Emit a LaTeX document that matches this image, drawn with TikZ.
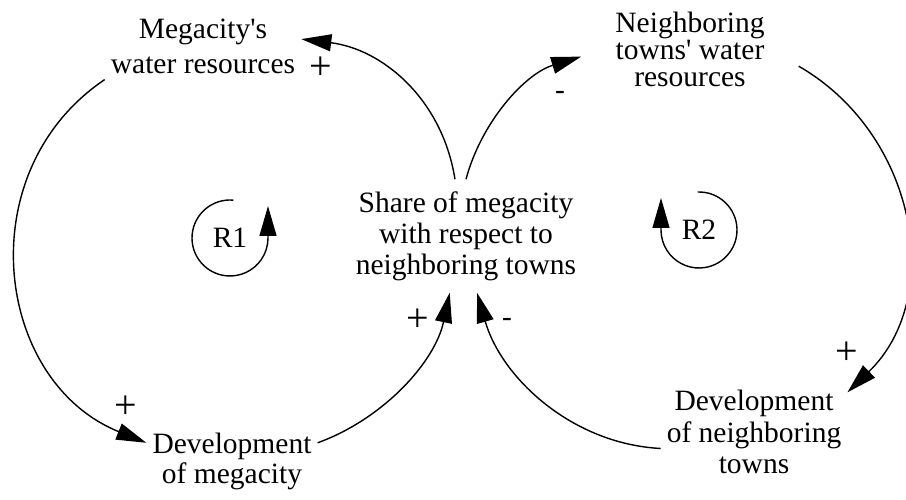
\documentclass[tikz,border=0pt]{standalone}
\usepackage{fontspec}
\setmainfont{Liberation Serif}
\usetikzlibrary{arrows.meta}

\begin{document}
\begin{tikzpicture}[x=1pt, y=1pt,
  var/.style={align=center, inner sep=6pt},
  link/.style={line width=1.4pt, -{Triangle[length=30pt, width=17pt]}},
  sign/.style={inner sep=0pt, font=\fontsize{29.5}{31}\selectfont},
  plus/.style={sign, font=\fontsize{40}{40}\selectfont}]

\useasboundingbox (0,0) rectangle (906,500);

% variables
\node[var, font=\fontsize{29.5}{35}\selectfont] (mw) at (203, 454) {Megacity\textquotesingle s\\water resources};
\node[var, inner xsep=34pt, font=\fontsize{29.5}{27}\selectfont] (nw) at (690, 451) {Neighboring\\towns\textquotesingle{} water\\resources};
\node[var, inner ysep=12pt, font=\fontsize{29.5}{31}\selectfont] (sh) at (466, 264) {Share of megacity\\with respect to\\neighboring towns};
\node[var, font=\fontsize{29.5}{30}\selectfont] (dm) at (232, 39) {Development\\of megacity};
\node[var, font=\fontsize{29.5}{31.5}\selectfont] (dn) at (754, 68) {Development\\of neighboring\\towns};

% causal links
\draw[link] (sh.101) to[out=99, in=-7] (mw.4);
\draw[link] (mw.south west) to[out=214, in=158, looseness=1.15] (dm.168);
\draw[link] (dm.12) to[out=20, in=258, looseness=0.9] (sh.254);
\draw[link] (dn.190) to[out=177, in=286, looseness=0.94] (sh.281);
\draw[link] (sh.north) to[out=75, in=197, looseness=0.9] (nw.184);
\draw[link] (nw.351) to[out=-30, in=44, looseness=1.06] (dn.23);

% polarities
\node[plus] (p1) at (321, 432) {+};
\node[plus] (p2) at (126, 93) {+};
\node[plus] (p3) at (418, 180) {+};
\node[sign] (p4) at (507, 178) {-};
\node[sign] (p5) at (560, 405) {-};
\node[plus] (p6) at (847, 147) {+};

% loop markers
\node[sign] (r1) at (230, 262) {R1};
\draw[link] ([shift={(85:38pt)}]r1.center) arc[start angle=85, end angle=360, radius=38pt] -- ++(0, 32);
\node[sign] (r2) at (699, 270) {R2};
\draw[link] ([shift={(92:38pt)}]r2.center) arc[start angle=92, end angle=-180, radius=38pt] -- ++(0, 32);

\end{tikzpicture}
\end{document}
